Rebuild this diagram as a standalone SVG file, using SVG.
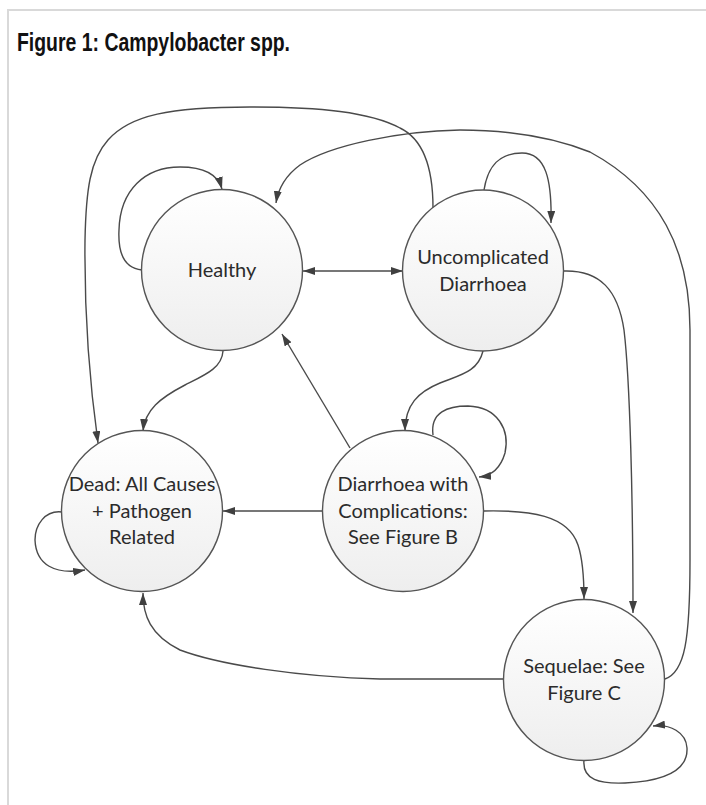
<svg xmlns="http://www.w3.org/2000/svg" width="706" height="805" viewBox="0 0 706 805">
<style>
.node{fill:url(#g);stroke:#555;stroke-width:1.4}
.lbl{font-family:Lato,"Liberation Sans",sans-serif;font-size:20px;fill:#2b2b2b;text-anchor:middle}
.c{fill:none;stroke:#4a4a4a;stroke-width:1.4;marker-end:url(#a)}
.frame{stroke:#d9d9d9;stroke-width:2;fill:none}
</style>
<defs>
<linearGradient id="g" x1="0" y1="0" x2="0" y2="1">
<stop offset="0" stop-color="#ffffff"/>
<stop offset="1" stop-color="#eeeeee"/>
</linearGradient>
<marker id="a" markerUnits="userSpaceOnUse" markerWidth="12" markerHeight="8" refX="12" refY="4" orient="auto-start-reverse" viewBox="0 0 12 8">
<path d="M0,0 L12,4 L0,8 z" fill="#404040"/>
</marker>
</defs>
<rect width="706" height="805" fill="#fff"/>
<path class="frame" d="M8,805 L8,10 L706,10"/>
<text x="17" y="51" font-family="'Liberation Sans',Arial,sans-serif" font-weight="bold" font-size="25.5" fill="#111" textLength="273" lengthAdjust="spacingAndGlyphs">Figure 1: Campylobacter spp.</text>

<g id="connectors">
<path class="c" d="M142,270 C122,268 118,250 119,230 C120,190 145,167 180,167 C205,167 218,175 222,189"/>
<path class="c" d="M433,208 C433,170 425,140 400,128 C370,112 320,107 250,107 C170,107 130,115 108,140 C90,160 86,190 85,240 C84,330 92,400 98,443"/>
<path class="c" d="M665,679 C685,672 690,640 690,560 L690,330 C690,250 660,190 590,152 C540,132 490,130 460,130 C400,131 330,145 300,165 C285,176 278,190 276,203"/>
<path class="c" d="M484,190 C488,165 500,153 522,153 C546,153 552,180 551,223"/>
<path class="c" style="marker-start:url(#a)" d="M303,271 L403,271"/>
<path class="c" d="M564,271 C600,270 618,290 624,330 C630,380 633,500 633,613"/>
<path class="c" d="M483,351 C478,372 460,375 440,383 C418,392 405,405 405,431"/>
<path class="c" d="M223,351 C222,368 205,375 185,385 C160,398 145,410 143,431"/>
<path class="c" d="M350,448 L282,334"/>
<path class="c" d="M323,511 L223,511"/>
<path class="c" d="M433,435 C430,412 448,406 468,406 C498,407 510,430 505,453 C500,470 490,476 479,477"/>
<path class="c" d="M484,511 C530,510 568,515 578,545 C583,560 584,580 584,599"/>
<path class="c" d="M503,679 L380,679 C300,677 220,665 180,650 C150,635 143,615 143,593"/>
<path class="c" d="M62,512 C45,510 35,525 35,540 C36,565 55,575 85,570"/>
<path class="c" d="M584,760 C582,780 600,784 625,783 C665,781 688,770 687,748 C686,732 670,724 653,726"/>
</g>

<g id="healthy">
<circle class="node" cx="222" cy="270" r="80.5"/>
<text class="lbl" x="222" y="277">Healthy</text>
</g>
<g id="uncomplicated">
<circle class="node" cx="483" cy="270.5" r="80.5"/>
<text class="lbl" x="483" y="264">Uncomplicated</text>
<text class="lbl" x="483" y="290.5">Diarrhoea</text>
</g>
<g id="dead">
<circle class="node" cx="142" cy="511" r="80.5"/>
<text class="lbl" x="142" y="491">Dead: All Causes</text>
<text class="lbl" x="142" y="517.5">+ Pathogen</text>
<text class="lbl" x="142" y="544">Related</text>
</g>
<g id="complications">
<circle class="node" cx="403" cy="511" r="80.5"/>
<text class="lbl" x="403" y="491">Diarrhoea with</text>
<text class="lbl" x="403" y="517.5">Complications:</text>
<text class="lbl" x="403" y="544">See Figure B</text>
</g>
<g id="sequelae">
<circle class="node" cx="584" cy="680" r="80.5"/>
<text class="lbl" x="584" y="673">Sequelae: See</text>
<text class="lbl" x="584" y="699.5">Figure C</text>
</g>
</svg>
